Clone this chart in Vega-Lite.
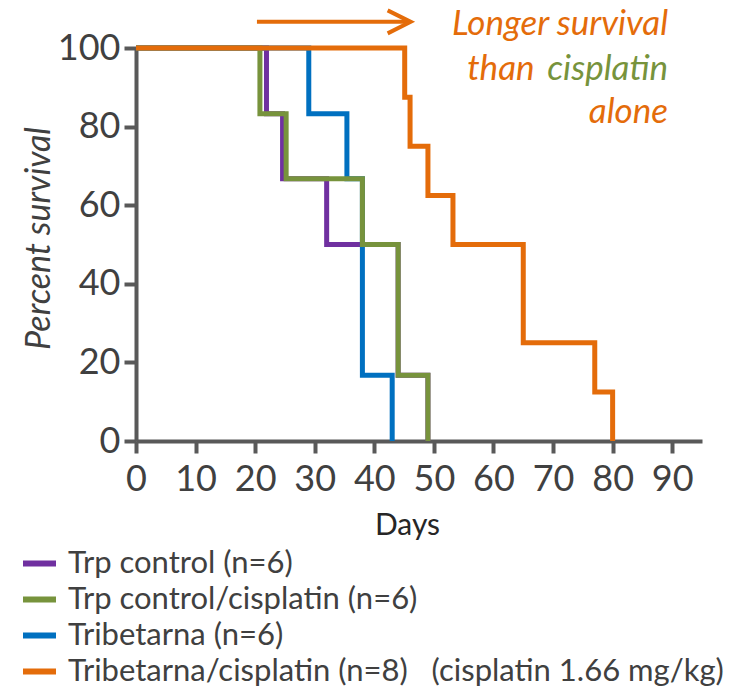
{
  "$schema": "https://vega.github.io/schema/vega-lite/v6.json",
  "width": 566,
  "height": 393,
  "autosize": {"type": "none"},
  "padding": {"left": 136, "top": 48, "right": 29, "bottom": 245},
  "background": "white",
  "config": {"view": {"stroke": null}, "font": "Lato"},
  "data": {
    "values": [
      {"series": "Trp control (n=6)", "day": 0, "pct": 100},
      {"series": "Trp control (n=6)", "day": 21.9, "pct": 83.3},
      {"series": "Trp control (n=6)", "day": 24.6, "pct": 66.7},
      {"series": "Trp control (n=6)", "day": 32, "pct": 50},
      {"series": "Trp control (n=6)", "day": 44, "pct": 16.7},
      {"series": "Trp control (n=6)", "day": 49, "pct": 0},
      {"series": "Trp control/cisplatin (n=6)", "day": 0, "pct": 100},
      {"series": "Trp control/cisplatin (n=6)", "day": 20.8, "pct": 83.3},
      {"series": "Trp control/cisplatin (n=6)", "day": 25.2, "pct": 66.7},
      {"series": "Trp control/cisplatin (n=6)", "day": 38, "pct": 50},
      {"series": "Trp control/cisplatin (n=6)", "day": 44, "pct": 16.7},
      {"series": "Trp control/cisplatin (n=6)", "day": 49, "pct": 0},
      {"series": "Tribetarna (n=6)", "day": 0, "pct": 100},
      {"series": "Tribetarna (n=6)", "day": 29, "pct": 83.3},
      {"series": "Tribetarna (n=6)", "day": 35.4, "pct": 66.7},
      {"series": "Tribetarna (n=6)", "day": 38, "pct": 16.7},
      {"series": "Tribetarna (n=6)", "day": 43, "pct": 0},
      {"series": "Tribetarna/cisplatin (n=8)", "day": 0, "pct": 100},
      {"series": "Tribetarna/cisplatin (n=8)", "day": 45.1, "pct": 87.5},
      {"series": "Tribetarna/cisplatin (n=8)", "day": 46, "pct": 75},
      {"series": "Tribetarna/cisplatin (n=8)", "day": 49, "pct": 62.5},
      {"series": "Tribetarna/cisplatin (n=8)", "day": 53.2, "pct": 50},
      {"series": "Tribetarna/cisplatin (n=8)", "day": 65, "pct": 25},
      {"series": "Tribetarna/cisplatin (n=8)", "day": 77, "pct": 12.5},
      {"series": "Tribetarna/cisplatin (n=8)", "day": 80, "pct": 0}
    ]
  },
  "encoding": {
    "x": {
      "field": "day", "type": "quantitative",
      "scale": {"domain": [0, 95], "nice": false, "zero": false},
      "axis": {
        "values": [0, 10, 20, 30, 40, 50, 60, 70, 80, 90],
        "title": "Days", "titleFontSize": 30, "titleFontWeight": "normal", "titleColor": "#262626",
        "titleX": 271, "titleY": 93, "titleBaseline": "alphabetic",
        "labelFontSize": 36, "labelColor": "#404040", "labelPadding": 9, "labelFlush": false,
        "tickSize": 12, "tickWidth": 4, "tickColor": "#595959",
        "domainWidth": 4, "domainColor": "#595959", "grid": false
      }
    },
    "y": {
      "field": "pct", "type": "quantitative",
      "scale": {"domain": [0, 100], "nice": false, "zero": false},
      "axis": {
        "values": [0, 20, 40, 60, 80, 100],
        "title": "Percent survival", "titleFontSize": 34, "titleFontWeight": "normal", "titleFontStyle": "italic",
        "titleColor": "#404040", "titleX": -87, "titleY": 190, "titleAngle": 270,
        "titleBaseline": "alphabetic", "titleAlign": "center",
        "labelFontSize": 36, "labelColor": "#404040", "labelPadding": 4,
        "tickSize": 12, "tickWidth": 4, "tickColor": "#595959",
        "domainWidth": 4, "domainColor": "#595959", "grid": false
      }
    }
  },
  "layer": [
    {
      "transform": [{"filter": "datum.series == 'Trp control (n=6)'"}],
      "mark": {"type": "line", "interpolate": "step-after", "strokeWidth": 5},
      "encoding": {
        "color": {
          "field": "series", "type": "nominal",
          "scale": {
            "domain": ["Trp control (n=6)", "Trp control/cisplatin (n=6)", "Tribetarna (n=6)", "Tribetarna/cisplatin (n=8)"],
            "range": ["#7030A0", "#77933C", "#0070C0", "#E46C0A"]
          },
          "legend": {
            "orient": "none", "legendX": -116, "legendY": 496, "title": null,
            "symbolType": "stroke", "symbolSize": 1089, "symbolStrokeWidth": 6,
            "labelFontSize": 31, "labelColor": "#404040", "labelOffset": 9, "rowPadding": 1,
            "padding": 0, "labelLimit": 0,
            "labelExpr": "datum.label == 'Tribetarna/cisplatin (n=8)' ? datum.label + '\u00a0\u00a0 (cisplatin 1.66 mg/kg)' : datum.label"
          }
        }
      }
    },
    {
      "transform": [{"filter": "datum.series == 'Tribetarna (n=6)'"}],
      "mark": {"type": "line", "interpolate": "step-after", "strokeWidth": 5},
      "encoding": {"color": {"field": "series", "type": "nominal"}}
    },
    {
      "transform": [{"filter": "datum.series == 'Trp control/cisplatin (n=6)'"}],
      "mark": {"type": "line", "interpolate": "step-after", "strokeWidth": 5},
      "encoding": {"color": {"field": "series", "type": "nominal"}}
    },
    {
      "transform": [{"filter": "datum.series == 'Tribetarna/cisplatin (n=8)'"}],
      "mark": {"type": "line", "interpolate": "step-after", "strokeWidth": 5},
      "encoding": {"color": {"field": "series", "type": "nominal"}}
    },
    {
      "data": {"values": [{"day": 20.3, "day2": 45.6, "pct": 106.65}]},
      "mark": {"type": "rule", "color": "#E46C0A", "strokeWidth": 4},
      "encoding": {"x2": {"field": "day2"}}
    },
    {
      "data": {"values": [{"day": 46.1, "pct": 106.65}]},
      "mark": {"type": "point", "shape": "M-2,-1L0,0L-2,1", "filled": false, "stroke": "#E46C0A", "strokeWidth": 4, "size": 529, "opacity": 1}
    },
    {
      "data": {"values": [
        {"label": "Longer survival", "day": 89.3, "pct": 103.3},
        {"label": "than", "day": 66.9, "pct": 91.9},
        {"label": "alone", "day": 89.3, "pct": 80.9}
      ]},
      "mark": {"type": "text", "align": "right", "baseline": "alphabetic", "fontSize": 35, "fontStyle": "italic", "color": "#E46C0A"},
      "encoding": {"text": {"field": "label"}}
    },
    {
      "data": {"values": [{"label": "cisplatin", "day": 89.3, "pct": 91.9}]},
      "mark": {"type": "text", "align": "right", "baseline": "alphabetic", "fontSize": 35, "fontStyle": "italic", "color": "#77933C"},
      "encoding": {"text": {"field": "label"}}
    }
  ]
}
